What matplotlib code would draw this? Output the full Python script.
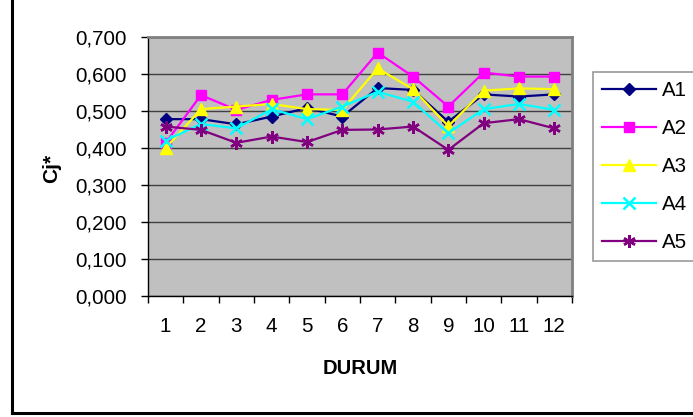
import matplotlib
matplotlib.use("Agg")
import matplotlib.pyplot as plt
from matplotlib.lines import Line2D
import numpy as np

plt.rcParams['font.family'] = ['Liberation Sans', 'DejaVu Sans']

W, H = 693, 417

durum = [1, 2, 3, 4, 5, 6, 7, 8, 9, 10, 11, 12]
a1 = [0.478, 0.478, 0.464, 0.485, 0.508, 0.485, 0.562, 0.557, 0.471, 0.545, 0.539, 0.545]
a2 = [0.414, 0.543, 0.503, 0.530, 0.545, 0.545, 0.658, 0.593, 0.512, 0.604, 0.593, 0.593]
a3 = [0.400, 0.505, 0.512, 0.519, 0.505, 0.503, 0.615, 0.559, 0.459, 0.555, 0.561, 0.559]
a4 = [0.420, 0.465, 0.453, 0.505, 0.478, 0.512, 0.552, 0.525, 0.440, 0.505, 0.519, 0.503]
a5 = [0.458, 0.449, 0.414, 0.431, 0.416, 0.449, 0.450, 0.458, 0.395, 0.467, 0.478, 0.453]
names = ['A1', 'A2', 'A3', 'A4', 'A5']
yticks = [0.0, 0.1, 0.2, 0.3, 0.4, 0.5, 0.6, 0.7]

series = [a1, a2, a3, a4, a5]
colors = ['#000080', '#FF00FF', '#FFFF00', '#00FFFF', '#800080']
markers = ['D', 's', '^', 'x', (6, 2, 0)]
msizes = [6.5, 7.5, 8.5, 8, 9]

fig = plt.figure(figsize=(W / 100, H / 100), dpi=100)
ax = fig.add_axes([148 / W, 1 - 296 / H, (572 - 148) / W, (296 - 37) / H])
ax.set_facecolor('#C0C0C0')

for s, c, m, ms, n in zip(series, colors, markers, msizes, names):
    ax.plot(durum, s, color=c, marker=m, markersize=ms, lw=1.6,
            markeredgewidth=1.8 if m in ('x', (6, 2, 0)) else 1,
            markeredgecolor=c, label=n)

ax.set_xlim(0.5, 12.5)
ax.set_ylim(0, 0.7)
ax.set_yticks(yticks)
ax.yaxis.set_major_formatter(plt.FuncFormatter(lambda v, p: ('%.3f' % v).replace('.', ',')))
ax.set_xticks(durum)
ax.set_xticklabels([str(d) for d in durum])
ax.set_xticks(np.arange(0.5, 13, 1), minor=True)
ax.tick_params(axis='x', which='major', length=0, pad=15, labelsize=14.8)
ax.tick_params(axis='x', which='minor', length=5, direction='out', width=1)
ax.tick_params(axis='y', length=5, direction='out', width=1, pad=10, labelsize=14.8)

ax.grid(axis='y', color='#404040', lw=1)
ax.set_axisbelow(True)
for sp in ['left', 'bottom']:
    ax.spines[sp].set_color('black')
    ax.spines[sp].set_linewidth(1)
for sp in ['top', 'right']:
    ax.spines[sp].set_color('#808080')
    ax.spines[sp].set_linewidth(2)

fig.text(360 / W, 1 - 368 / H, 'DURUM', ha='center', va='center',
         fontsize=14.5, fontweight='bold')
fig.text(52 / W, 1 - 168 / H, 'Cj*', ha='center', va='center',
         fontsize=15, fontweight='bold', rotation=90)

leg = fig.legend(loc='upper left', bbox_to_anchor=(593 / W, 1 - 72 / H),
                 fontsize=14.8, frameon=True, fancybox=False,
                 handlelength=2.6, handletextpad=0.3, labelspacing=0.92,
                 borderpad=0.45, borderaxespad=0)
leg.get_frame().set_edgecolor('#808080')
leg.get_frame().set_linewidth(1.2)

# outer chart border
fig.add_artist(Line2D([12 / W, 12 / W], [1 - 413 / H, 1.0], color='black', lw=2.2,
                      transform=fig.transFigure))
fig.add_artist(Line2D([12 / W, 1.0], [1 - 413 / H, 1 - 413 / H], color='black', lw=2.2,
                      transform=fig.transFigure))

fig.savefig('out.png', dpi=100)
